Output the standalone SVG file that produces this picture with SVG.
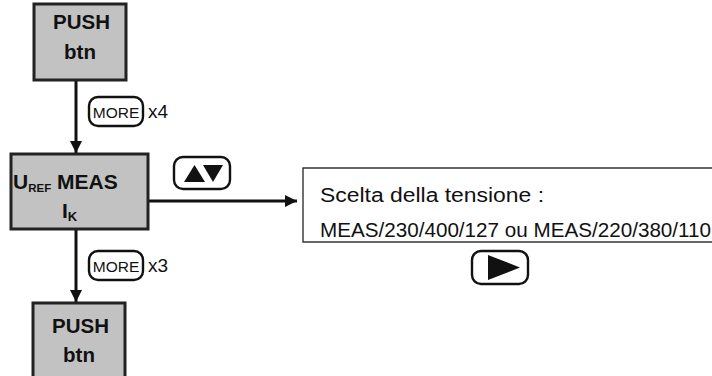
<svg xmlns="http://www.w3.org/2000/svg" width="712" height="376" viewBox="0 0 712 376">
<style>
.box{fill:#c2c2c2;stroke:#222;stroke-width:3}
.btn{fill:#fff;stroke:#111;stroke-width:2.4}
.b{font-family:"Liberation Sans",Arial,sans-serif;font-weight:bold;fill:#111}
.r{font-family:"Liberation Sans",Arial,sans-serif;fill:#111}
.ln{stroke:#111;stroke-width:3;fill:none}
</style>
<defs>
<marker id="ah" markerUnits="userSpaceOnUse" markerWidth="14" markerHeight="14" refX="12" refY="6" orient="auto">
<path d="M0,0 L12,6 L0,12 Z" fill="#111"/>
</marker>
</defs>
<rect width="712" height="376" fill="#fff"/>
<g id="connectors">
<line class="ln" x1="76" y1="80" x2="76" y2="153" marker-end="url(#ah)"/>
<line class="ln" x1="148" y1="201" x2="297" y2="201" marker-end="url(#ah)"/>
<line class="ln" x1="76" y1="229" x2="76" y2="302" marker-end="url(#ah)"/>
<g id="more1">
<rect class="btn" x="89" y="97" width="54" height="29" rx="9"/>
<text class="r" x="116" y="118" font-size="15.5" text-anchor="middle">MORE</text>
<text class="r" x="148" y="118" font-size="19">x4</text>
</g>
<g id="updown">
<rect class="btn" x="174" y="157" width="56" height="32" rx="9"/>
<polygon points="184,182 205,182 194.5,165" fill="#111"/>
<polygon points="203,165 223,165 213,182" fill="#111"/>
</g>
<g id="more2">
<rect class="btn" x="89" y="251" width="54" height="29" rx="9"/>
<text class="r" x="116" y="272" font-size="15.5" text-anchor="middle">MORE</text>
<text class="r" x="148" y="272" font-size="19">x3</text>
</g>
</g>
<g id="push1">
<rect class="box" x="34" y="4" width="92" height="76"/>
<text class="b" x="81.5" y="29" font-size="20.5" text-anchor="middle">PUSH</text>
<text class="b" x="80" y="59" font-size="20.5" text-anchor="middle">btn</text>
</g>
<g id="meas">
<rect class="box" x="11" y="154" width="137" height="75"/>
<text class="b" x="13" y="189" font-size="21">U<tspan font-size="11.5" dy="3">REF</tspan><tspan dy="-3"> MEAS</tspan></text>
<text class="b" x="62" y="218" font-size="21">I<tspan font-size="13" dy="3">K</tspan></text>
</g>
<g id="choice">
<path d="M713,168 L303,168 L303,242 L713,242" fill="#fff" stroke="#333" stroke-width="1.4"/>
<text class="r" x="320" y="202" font-size="20" textLength="224" lengthAdjust="spacingAndGlyphs">Scelta della tensione :</text>
<text class="r" x="320" y="237" font-size="20" textLength="391" lengthAdjust="spacingAndGlyphs">MEAS/230/400/127 ou MEAS/220/380/110</text>
</g>
<g id="play">
<rect class="btn" x="472" y="251" width="56" height="33" rx="9"/>
<polygon points="488,255 488,280 520,267.5" fill="#111"/>
</g>
<g id="push2">
<rect class="box" x="33" y="303" width="92" height="80"/>
<text class="b" x="80.5" y="333" font-size="20.5" text-anchor="middle">PUSH</text>
<text class="b" x="79" y="362" font-size="20.5" text-anchor="middle">btn</text>
</g>
</svg>
